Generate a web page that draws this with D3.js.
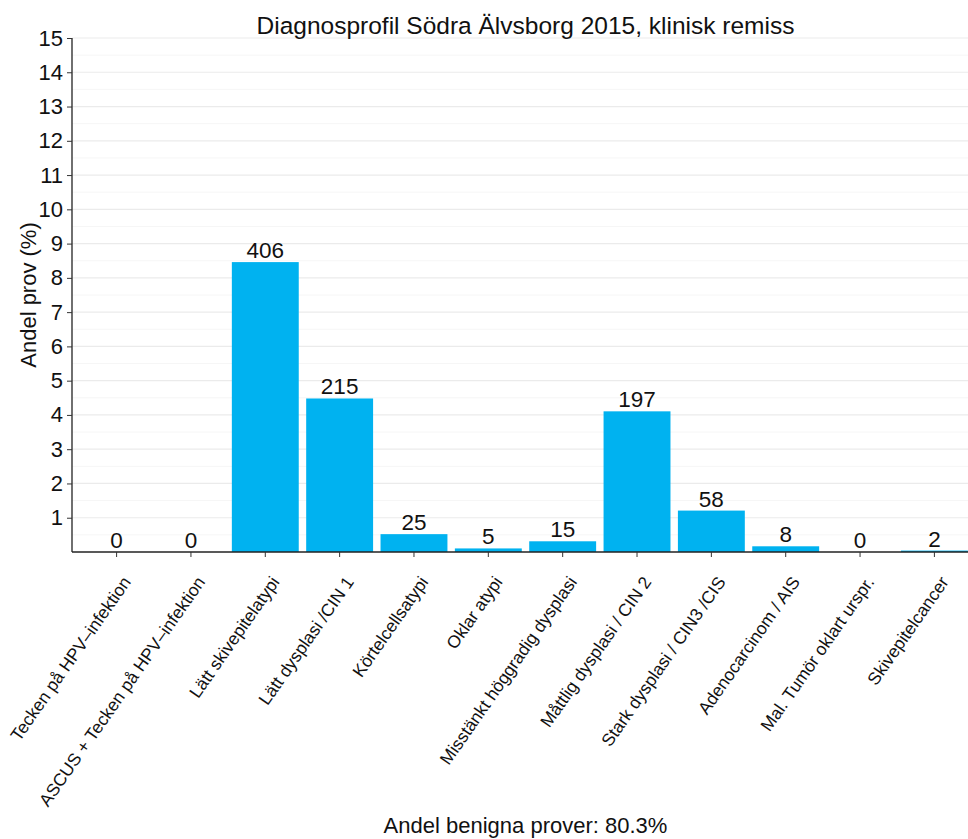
<!DOCTYPE html>
<html>
<head>
<meta charset="utf-8">
<script src="https://cdn.jsdelivr.net/npm/d3@7"></script>
<style>
  html, body { margin: 0; padding: 0; background: #fff; }
  svg { display: block; font-family: "Liberation Sans", Arial, sans-serif; }
</style>
</head>
<body>
<svg id="chart" width="968" height="839"></svg>
<script>
// Diagnosis categories and number of samples per category
const categories = [
  "Tecken på HPV–infektion",
  "ASCUS + Tecken på HPV–infektion",
  "Lätt skivepitelatypi",
  "Lätt dysplasi /CIN 1",
  "Körtelcellsatypi",
  "Oklar atypi",
  "Misstänkt höggradig dysplasi",
  "Måttlig dysplasi / CIN 2",
  "Stark dysplasi / CIN3 /CIS",
  "Adenocarcinom / AIS",
  "Mal. Tumör oklart urspr.",
  "Skivepitelcancer"
];
const counts = [0, 0, 406, 215, 25, 5, 15, 197, 58, 8, 0, 2];
const totalSamples = 4799;
const yTicks = [1, 2, 3, 4, 5, 6, 7, 8, 9, 10, 11, 12, 13, 14, 15];
const yMinorTicks = [0.5, 1.5, 2.5, 3.5, 4.5, 5.5, 6.5, 7.5, 8.5, 9.5, 10.5, 11.5, 12.5, 13.5, 14.5];
const titleText = "Diagnosprofil Södra Älvsborg 2015, klinisk remiss";
const yTitle = "Andel prov (%)";
const caption = "Andel benigna prover: 80.3%";

const data = categories.map((c, i) => ({ cat: c, n: counts[i], pct: counts[i] / totalSamples * 100 }));

const svg = d3.select("#chart");
const panel = { left: 72, right: 979, top: 38, bottom: 552 };

const x = d3.scaleBand()
  .domain(categories)
  .range([panel.left, panel.right])
  .paddingInner(0.1)
  .paddingOuter(0.15);

const y = d3.scaleLinear().domain([0, 15]).range([panel.bottom, panel.top]);

// grid lines
const grid = svg.append("g");
grid.selectAll("line.minor").data(yMinorTicks).join("line")
  .attr("x1", panel.left).attr("x2", panel.right)
  .attr("y1", d => y(d)).attr("y2", d => y(d))
  .attr("stroke", "#f6f6f6").attr("stroke-width", 1);
grid.selectAll("line.major").data(yTicks).join("line")
  .attr("x1", panel.left).attr("x2", panel.right)
  .attr("y1", d => y(d)).attr("y2", d => y(d))
  .attr("stroke", "#ebebeb").attr("stroke-width", 1.2);

// bars
svg.append("g").selectAll("rect").data(data).join("rect")
  .attr("x", d => x(d.cat))
  .attr("width", x.bandwidth())
  .attr("y", d => y(d.pct))
  .attr("height", d => y(0) - y(d.pct))
  .attr("fill", "#00b2f0");

// value labels
svg.append("g").selectAll("text").data(data).join("text")
  .attr("x", d => x(d.cat) + x.bandwidth() / 2)
  .attr("y", d => y(d.pct) - 4)
  .attr("text-anchor", "middle")
  .attr("font-size", 22.5)
  .attr("fill", "#111")
  .text(d => d.n);

// y axis
const yAxis = svg.append("g")
  .attr("transform", `translate(${panel.left},0)`)
  .call(d3.axisLeft(y).tickValues(yTicks).tickSize(5).tickPadding(4).tickFormat(d3.format("d")));
yAxis.select(".domain").attr("stroke", "#222").attr("stroke-width", 1.3)
  .attr("d", `M0,${panel.top}V${panel.bottom}`);
yAxis.selectAll(".tick line").attr("stroke", "#333");
yAxis.selectAll(".tick text").attr("font-size", 22).attr("fill", "#111").attr("font-family", "Liberation Sans, Arial, sans-serif");

// x axis
const xAxis = svg.append("g")
  .attr("transform", `translate(0,${panel.bottom})`)
  .call(d3.axisBottom(x).tickSize(5).tickSizeOuter(0));
xAxis.select(".domain").attr("stroke", "#222").attr("stroke-width", 1.3)
  .attr("d", `M${panel.left},0H${panel.right}`);
xAxis.selectAll(".tick line").attr("stroke", "#333");
xAxis.selectAll(".tick text")
  .attr("font-size", 17.5)
  .attr("fill", "#111")
  .attr("font-family", "Liberation Sans, Arial, sans-serif")
  .attr("text-anchor", "end")
  .attr("dy", null)
  .attr("y", 0)
  .attr("transform", "translate(15,30) rotate(-55)");

// titles
svg.append("text")
  .attr("x", (panel.left + panel.right) / 2).attr("y", 34)
  .attr("text-anchor", "middle").attr("font-size", 24.5).attr("fill", "#111")
  .text(titleText);

svg.append("text")
  .attr("transform", `translate(36,${(panel.top + panel.bottom) / 2}) rotate(-90)`)
  .attr("text-anchor", "middle").attr("font-size", 22).attr("fill", "#111")
  .text(yTitle);

svg.append("text")
  .attr("x", (panel.left + panel.right) / 2).attr("y", 833)
  .attr("text-anchor", "middle").attr("font-size", 22).attr("fill", "#111")
  .text(caption);
</script>
</body>
</html>
